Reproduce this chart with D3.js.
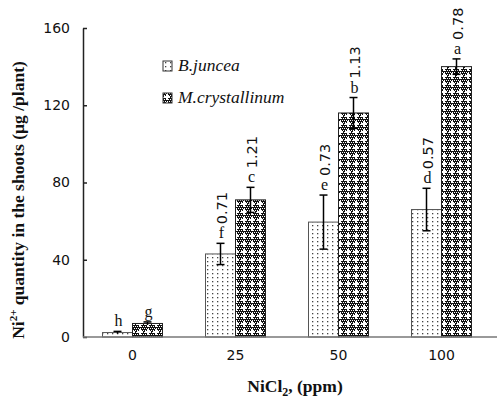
<!DOCTYPE html>
<html>
<head>
<meta charset="utf-8">
<script src="https://cdn.jsdelivr.net/npm/d3@7"></script>
<style>
  body { margin: 0; background: #fff; }
  svg { display: block; }
  .axis text { font-family: "DejaVu Sans", Verdana, sans-serif; font-size: 14px; fill: #111; }
  .serif { font-family: "Liberation Serif", "Times New Roman", Times, serif; fill: #111; }
</style>
</head>
<body>
<svg id="chart"></svg>
<script>
// Data
const doses = ['0', '25', '50', '100'];
const species = ['B.juncea', 'M.crystallinum'];
const bjValues = [2.3, 43, 59.5, 66];
const mcValues = [7, 71, 116, 140];
const bjErrors = [0.6, 5.5, 14, 11];
const mcErrors = [0.8, 6.5, 8, 4];
const bjLetters = ['h', 'f', 'e', 'd'];
const mcLetters = ['g', 'c', 'b', 'a'];
const bjNumbers = ['', '0.71', '0.73', '0.57'];
const mcNumbers = ['', '1.21', '1.13', '0.78'];
const yTicks = [0, 40, 80, 120, 160];

const width = 500, height = 398;
const margin = {top: 28, right: 3, bottom: 61, left: 83};

const svg = d3.select('#chart')
  .attr('width', width)
  .attr('height', height);

// fill patterns
const defs = svg.append('defs');
const dots = defs.append('pattern')
  .attr('id', 'dots')
  .attr('patternUnits', 'userSpaceOnUse')
  .attr('width', 5).attr('height', 4);
dots.append('rect').attr('width', 5).attr('height', 4).attr('fill', '#fff');
dots.append('rect').attr('x', 2).attr('y', 1).attr('width', 1.3).attr('height', 1.3).attr('fill', '#444');

const check = defs.append('pattern')
  .attr('id', 'check')
  .attr('patternUnits', 'userSpaceOnUse')
  .attr('width', 8).attr('height', 8);
check.append('rect').attr('width', 8).attr('height', 8).attr('fill', '#111');
for (let i = 0; i < 8; i += 2) {
  for (let j = 0; j < 8; j += 2) {
    check.append('rect').attr('x', i + ((j / 2) % 2)).attr('y', j)
      .attr('width', 1).attr('height', 1).attr('fill', '#fff');
  }
}
check.append('rect').attr('x', 3).attr('y', 1).attr('width', 2).attr('height', 6).attr('fill', '#fff');
check.append('rect').attr('x', 1).attr('y', 3).attr('width', 6).attr('height', 2).attr('fill', '#fff');

const fills = {'B.juncea': 'url(#dots)', 'M.crystallinum': 'url(#check)'};
const strokes = {'B.juncea': '#555', 'M.crystallinum': '#222'};

// scales
const x = d3.scaleBand()
  .domain(doses)
  .range([81, 493]);

const xSub = d3.scaleBand()
  .domain(species)
  .range([-30, 30]);

const y = d3.scaleLinear()
  .domain([0, 160])
  .range([height - margin.bottom, margin.top]);

// rows for drawing
const rows = [];
doses.forEach((d, i) => {
  rows.push({dose: d, sp: 'B.juncea', v: bjValues[i], e: bjErrors[i], letter: bjLetters[i], num: bjNumbers[i]});
  rows.push({dose: d, sp: 'M.crystallinum', v: mcValues[i], e: mcErrors[i], letter: mcLetters[i], num: mcNumbers[i]});
});
const cx = d => x(d.dose) + x.bandwidth() / 2 + xSub(d.sp) + xSub.bandwidth() / 2;

// bars
svg.append('g').selectAll('rect')
  .data(rows)
  .join('rect')
  .attr('x', d => x(d.dose) + x.bandwidth() / 2 + xSub(d.sp))
  .attr('y', d => y(d.v))
  .attr('width', xSub.bandwidth())
  .attr('height', d => y(0) - y(d.v))
  .attr('fill', d => fills[d.sp])
  .attr('stroke', d => strokes[d.sp])
  .attr('stroke-width', 1);

// error bars
const err = svg.append('g')
  .attr('stroke', '#000')
  .attr('stroke-width', 1.5);
err.selectAll('.stem')
  .data(rows)
  .join('line')
  .attr('x1', cx).attr('x2', cx)
  .attr('y1', d => y(d.v + d.e))
  .attr('y2', d => y(d.v - d.e));
err.selectAll('.capTop')
  .data(rows)
  .join('line')
  .attr('x1', d => cx(d) - 4).attr('x2', d => cx(d) + 4)
  .attr('y1', d => y(d.v + d.e)).attr('y2', d => y(d.v + d.e));
err.selectAll('.capBot')
  .data(rows.filter(d => d.e > 1))
  .join('line')
  .attr('x1', d => cx(d) - 4).attr('x2', d => cx(d) + 4)
  .attr('y1', d => y(d.v - d.e)).attr('y2', d => y(d.v - d.e));

// significance letters
svg.append('g').selectAll('text')
  .data(rows)
  .join('text')
  .attr('class', 'serif')
  .attr('x', d => cx(d) + 1)
  .attr('y', d => y(d.v + d.e) - 5)
  .attr('text-anchor', 'middle')
  .style('font-size', '16px')
  .text(d => d.letter);

// rotated numbers
svg.append('g').selectAll('text')
  .data(rows.filter(d => d.num))
  .join('text')
  .attr('transform', d => `translate(${cx(d) + 6.5},${y(d.v + d.e) - 19}) rotate(-90)`)
  .style('font-family', '"DejaVu Sans", Verdana, sans-serif')
  .style('font-size', '14.5px')
  .style('fill', '#111')
  .text(d => d.num);

// axes
const yAxis = d3.axisLeft(y)
  .tickValues(yTicks)
  .tickSizeInner(-4)
  .tickSizeOuter(0)
  .tickPadding(13);
const yAxisG = svg.append('g')
  .attr('class', 'axis')
  .attr('transform', `translate(${margin.left},0)`)
  .call(yAxis);
yAxisG.selectAll('path, line').attr('stroke', '#222').attr('stroke-width', 1.5);

const xAxis = d3.axisBottom(x)
  .tickSize(0)
  .tickPadding(13);
const xAxisG = svg.append('g')
  .attr('class', 'axis')
  .attr('transform', `translate(0,${y(0)})`)
  .call(xAxis);
xAxisG.select('.domain').remove();
xAxisG.append('line')
  .attr('x1', margin.left).attr('x2', width - margin.right)
  .attr('y1', 0).attr('y2', 0)
  .attr('stroke', '#777').attr('stroke-width', 1.5);

// axis titles
const yTitle = svg.append('text')
  .attr('class', 'serif')
  .attr('transform', 'translate(24,200) rotate(-90)')
  .attr('text-anchor', 'middle')
  .style('font-weight', 'bold')
  .style('font-size', '17.5px');
yTitle.append('tspan').text('Ni');
yTitle.append('tspan').attr('dy', -7).style('font-size', '11px').text('2+');
yTitle.append('tspan').attr('dy', 7).text(' quantity in the shoots (µg /plant)');

const xTitle = svg.append('text')
  .attr('class', 'serif')
  .attr('x', 295)
  .attr('y', 392)
  .attr('text-anchor', 'middle')
  .style('font-weight', 'bold')
  .style('font-size', '17.5px');
xTitle.append('tspan').text('NiCl');
xTitle.append('tspan').attr('dy', 4).style('font-size', '12px').text('2');
xTitle.append('tspan').attr('dy', -4).text(', (ppm)');

// legend
const legend = svg.append('g')
  .selectAll('g')
  .data(species)
  .join('g')
  .attr('transform', (d, i) => `translate(163,${61 + i * 32})`);
legend.append('rect')
  .attr('width', 9).attr('height', 10)
  .attr('fill', d => fills[d])
  .attr('stroke', '#333');
legend.append('text')
  .attr('class', 'serif')
  .attr('x', 15).attr('y', 10)
  .style('font-style', 'italic')
  .style('font-size', '17.5px')
  .text(d => d);
</script>
</body>
</html>
